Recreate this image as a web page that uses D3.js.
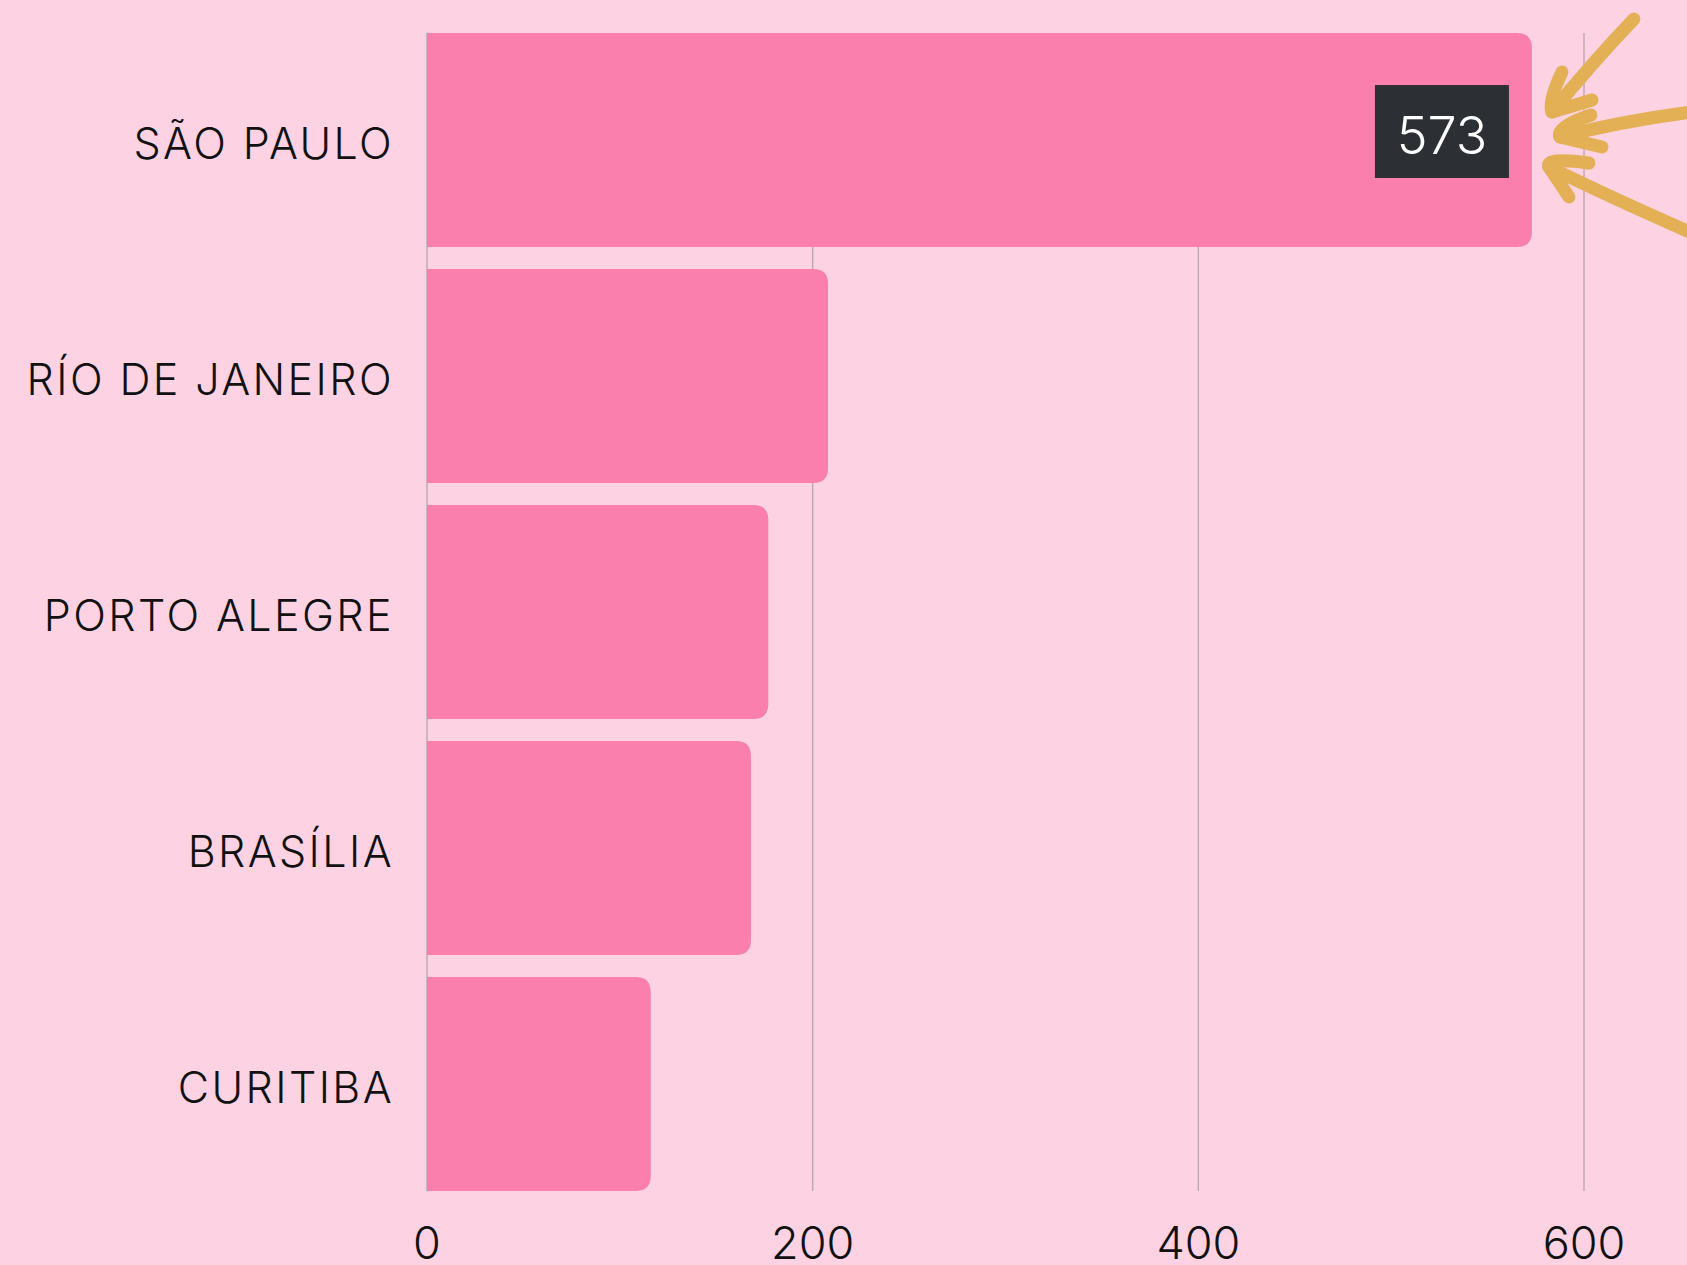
<!DOCTYPE html>
<html>
<head>
<meta charset="utf-8">
<script src="https://cdn.jsdelivr.net/npm/d3@7"></script>
<style>
  html, body { margin: 0; padding: 0; background: #FDD3E3; }
  svg { display: block; }
</style>
</head>
<body>
<svg id="chart"></svg>
<script>
// data
const cities = ['SÃO PAULO', 'RÍO DE JANEIRO', 'PORTO ALEGRE', 'BRASÍLIA', 'CURITIBA'];
const values = [573, 208, 177, 168, 116];
const ticks = [0, 200, 400, 600];
const highlight = 'SÃO PAULO';

const width = 1687, height = 1265;
const margin = {left: 427, right: 103, top: 33, bottom: 74};

const svg = d3.select('#chart')
    .attr('width', width)
    .attr('height', height);

svg.append('rect')
    .attr('width', width).attr('height', height)
    .attr('fill', '#FDD3E3');

// scales
const x = d3.scaleLinear()
    .domain([0, 600])
    .range([margin.left, width - margin.right]);
const y = d3.scaleBand()
    .domain(cities)
    .range([margin.top, height - margin.bottom])
    .paddingInner(0.093)
    .paddingOuter(0);

// grid lines
svg.append('g')
    .selectAll('line')
    .data(ticks)
    .join('line')
    .attr('x1', d => x(d)).attr('x2', d => x(d))
    .attr('y1', margin.top).attr('y2', height - margin.bottom)
    .attr('stroke', '#B9A9B1')
    .attr('stroke-width', 1.4);

// bars: flat left side, rounded right side
const r = 15;
function barPath(v, c) {
    let x0 = x(0), x1 = x(v), y0 = y(c), y1 = y(c) + y.bandwidth();
    return `M${x0},${y0} H${x1 - r} Q${x1},${y0} ${x1},${y0 + r} V${y1 - r} Q${x1},${y1} ${x1 - r},${y1} H${x0} Z`;
}
svg.append('g')
    .selectAll('path')
    .data(cities)
    .join('path')
    .attr('d', (c, i) => barPath(values[i], c))
    .attr('fill', '#FB7FAD');

// category labels
svg.append('g')
    .selectAll('text')
    .data(cities)
    .join('text')
    .attr('x', margin.left - 33)
    .attr('y', c => y(c) + y.bandwidth() / 2 + 19)
    .attr('text-anchor', 'end')
    .attr('font-family', 'Inter, "Noto Sans", sans-serif')
    .attr('font-size', 43)
    .attr('font-weight', 300)
    .attr('letter-spacing', 2.4)
    .attr('fill', '#111')
    .text(c => c);

// x axis tick labels
svg.append('g')
    .selectAll('text')
    .data(ticks)
    .join('text')
    .attr('x', d => x(d))
    .attr('y', 1259)
    .attr('text-anchor', 'middle')
    .attr('font-family', 'Inter, "Noto Sans", sans-serif')
    .attr('font-size', 45)
    .attr('font-weight', 300)
    .attr('fill', '#111')
    .text(d => d);

// value label for the highlighted bar
const hv = values[cities.indexOf(highlight)];
const hx = x(hv), hy = y(highlight);
const lab = svg.append('g');
lab.append('rect')
    .attr('x', hx - 157).attr('y', hy + 52)
    .attr('width', 134).attr('height', 93)
    .attr('fill', '#2C2F33');
lab.append('text')
    .attr('x', hx - 90).attr('y', hy + 121)
    .attr('text-anchor', 'middle')
    .attr('font-family', 'Inter, "Noto Sans", sans-serif')
    .attr('font-size', 52)
    .attr('font-weight', 300)
    .attr('fill', '#fff')
    .text(hv);

// hand drawn arrows pointing at the bar end (offsets from bar end / top)
const arrows = [
    {from: [102, -14], ctrl: [60, 30], tip: [20, 79], barbs: [[30, 39], [60, 67]]},
    {from: [160, 79], ctrl: [90, 88], tip: [28, 104], barbs: [[59, 82], [70, 114]]},
    {from: [160, 200], ctrl: [80, 165], tip: [17, 134], barbs: [[57, 130], [37, 164]]}
];
const ag = svg.append('g')
    .attr('fill', 'none')
    .attr('stroke', '#E3B055')
    .attr('stroke-width', 13)
    .attr('stroke-linecap', 'round')
    .attr('stroke-linejoin', 'round');
arrows.forEach(function (a) {
    let px = p => hx + p[0], py = p => hy + p[1];
    ag.append('path')
        .attr('d', `M${px(a.from)},${py(a.from)} Q${px(a.ctrl)},${py(a.ctrl)} ${px(a.tip)},${py(a.tip)}`);
    ag.append('path')
        .attr('d', `M${px(a.barbs[0])},${py(a.barbs[0])} Q${px(a.tip) - 4},${py(a.tip) - 10} ${px(a.tip)},${py(a.tip)} L${px(a.barbs[1])},${py(a.barbs[1])}`);
});
</script>
</body>
</html>
